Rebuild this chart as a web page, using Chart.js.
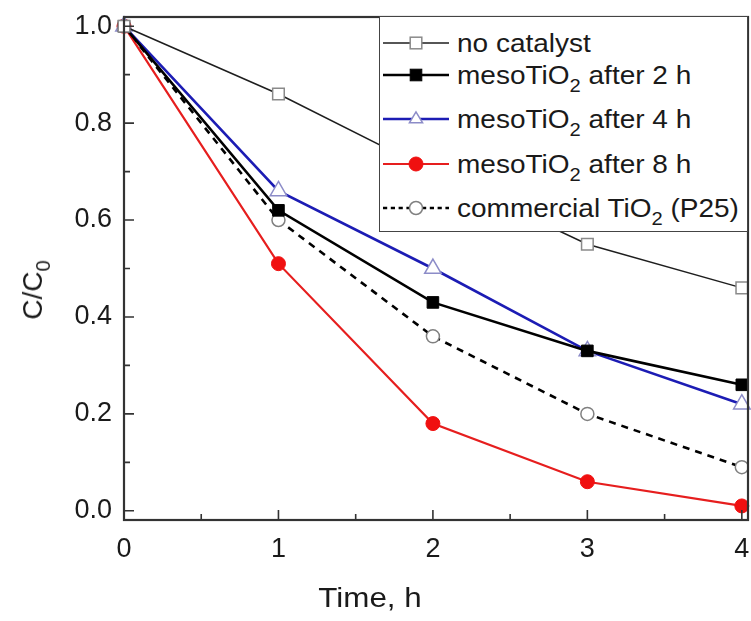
<!DOCTYPE html>
<html>
<head>
<meta charset="utf-8">
<script src="https://cdn.jsdelivr.net/npm/chart.js@4.4.1/dist/chart.umd.min.js"></script>
<style>
  html, body { margin: 0; padding: 0; background: #fff; }
  #wrap { position: relative; width: 751px; height: 621px; overflow: hidden; font-family: "Liberation Sans", Arial, sans-serif; color: #1a1a1a; }
  #c { position: absolute; left: 0; top: 0; }
  #legend { position: absolute; left: 379px; top: 16px; width: 369px; height: 216px; border: 1.5px solid #444; background: #fff; box-sizing: border-box; }
  .row { position: absolute; left: 0; height: 30px; line-height: 30px; white-space: nowrap; }
  .row svg { position: absolute; left: 3px; top: 5px; }
  .row span.t { position: absolute; left: 77px; top: 0; font-size: 25px; transform: scaleX(1.12); transform-origin: left center; }
  sub { font-size: 0.72em; line-height: 0; vertical-align: -0.42em; }
  #ytitle { position: absolute; left: 33px; top: 290px; transform: translate(-50%, -50%) rotate(-90deg); font-size: 28px; white-space: nowrap; }
  #xtitle { position: absolute; left: 370px; top: 598px; transform: translate(-50%, -50%) scaleX(1.12); font-size: 28px; white-space: nowrap; }
</style>
</head>
<body>
<div id="wrap">
  <canvas id="c" width="751" height="621"></canvas>
  <div id="legend"></div>
  <div id="ytitle">C/C<sub>0</sub></div>
  <div id="xtitle">Time, h</div>
</div>
<script>
// ---- data ----
const times = [0, 1, 2, 3, 4];
const noCatalyst = [1.00, 0.86, 0.70, 0.55, 0.46];
const meso2h = [1.00, 0.62, 0.43, 0.33, 0.26];
const meso4h = [1.00, 0.66, 0.50, 0.33, 0.22];
const meso8h = [1.00, 0.51, 0.18, 0.06, 0.01];
const p25 = [1.00, 0.60, 0.36, 0.20, 0.09];
const seriesLabels = [
  'no catalyst',
  'mesoTiO<sub>2</sub> after 2 h',
  'mesoTiO<sub>2</sub> after 4 h',
  'mesoTiO<sub>2</sub> after 8 h',
  'commercial TiO<sub>2</sub> (P25)'
];
const xMajorTicks = [0, 1, 2, 3, 4];
const xMinorTicks = [0.5, 1.5, 2.5, 3.5];
const yMajorTicks = [0.0, 0.2, 0.4, 0.6, 0.8, 1.0];
const yMinorTicks = [0.1, 0.3, 0.5, 0.7, 0.9];

const toPts = arr => times.map((t, i) => ({ x: t, y: arr[i] }));

const styles = [
  { data: noCatalyst, borderColor: '#1e1e1e', borderWidth: 1.5, pointStyle: 'rect', pointRadius: 8.2, pointBorderColor: '#8a8a8a', pointBackgroundColor: '#ffffff', pointBorderWidth: 1.5, dash: [] },
  { data: meso2h, borderColor: '#000000', borderWidth: 2.6, pointStyle: 'rect', pointRadius: 8.2, pointBorderColor: '#000000', pointBackgroundColor: '#000000', pointBorderWidth: 1, dash: [] },
  { data: meso4h, borderColor: '#1c1cb4', borderWidth: 2.6, pointStyle: 'triangle', pointRadius: 9.5, pointBorderColor: '#8c8cc8', pointBackgroundColor: '#ffffff', pointBorderWidth: 1.5, dash: [] },
  { data: meso8h, borderColor: '#e61e1e', borderWidth: 2.2, pointStyle: 'circle', pointRadius: 7, pointBorderColor: '#f01010', pointBackgroundColor: '#f01010', pointBorderWidth: 1, dash: [] },
  { data: p25, borderColor: '#000000', borderWidth: 2.6, pointStyle: 'circle', pointRadius: 6.5, pointBorderColor: '#808080', pointBackgroundColor: '#ffffff', pointBorderWidth: 1.5, dash: [7, 6] }
];

const datasets = styles.map((s, i) => ({
  label: seriesLabels[i].replace(/<[^>]+>/g, ''),
  data: toPts(s.data),
  borderColor: s.borderColor,
  borderWidth: s.borderWidth,
  borderDash: s.dash,
  pointStyle: s.pointStyle,
  pointRadius: s.pointRadius,
  pointHoverRadius: s.pointRadius,
  pointBorderColor: s.pointBorderColor,
  pointBackgroundColor: s.pointBackgroundColor,
  pointBorderWidth: s.pointBorderWidth,
  tension: 0,
  fill: false,
  clip: false
}));

function buildTicks(major, minor) {
  return scale => {
    const mset = new Set(major);
    scale.ticks = [...major, ...minor].sort((a, b) => a - b).map(v => ({ value: v, major: mset.has(v) }));
  };
}

const frameTicks = {
  id: 'frameTicks',
  afterDatasetsDraw(chart) {
    const { ctx, chartArea: a, scales } = chart;
    ctx.save();
    ctx.strokeStyle = '#333';
    ctx.lineWidth = 1.6;
    ctx.beginPath();
    scales.x.ticks.forEach(t => {
      const px = scales.x.getPixelForValue(t.value);
      const len = t.major ? 10 : 6;
      ctx.moveTo(px, a.bottom);
      ctx.lineTo(px, a.bottom - len);
    });
    scales.y.ticks.forEach(t => {
      const py = scales.y.getPixelForValue(t.value);
      const len = t.major ? 10 : 6;
      ctx.moveTo(a.left, py);
      ctx.lineTo(a.left + len, py);
    });
    ctx.stroke();
    ctx.lineWidth = 2.2;
    ctx.strokeRect(a.left, a.top, a.right - a.left, a.bottom - a.top);
    ctx.restore();
  }
};

const tickFont = { family: '"Liberation Sans", Arial, sans-serif', size: 27 };
const zeroPad = s => {
  s.paddingLeft = 0; s.paddingRight = 0; s.paddingTop = 0; s.paddingBottom = 0;
};

new Chart(document.getElementById('c'), {
  type: 'line',
  data: { datasets },
  options: {
    responsive: false,
    animation: false,
    layout: { autoPadding: false, padding: { top: 17, right: 3, left: 0, bottom: 0 } },
    plugins: { legend: { display: false }, tooltip: { enabled: false } },
    scales: {
      x: {
        type: 'linear', min: 0, max: 4.04,
        afterBuildTicks: buildTicks(xMajorTicks, xMinorTicks),
        afterFit: s => { s.height = 101; zeroPad(s); },
        grid: { display: false, drawTicks: false },
        border: { display: false },
        ticks: { autoSkip: false, maxRotation: 0, padding: 13, color: '#1a1a1a', font: tickFont,
          callback: function (v) { return xMajorTicks.includes(v) ? String(v) : ''; } }
      },
      y: {
        type: 'linear', min: -0.019, max: 1.019,
        afterBuildTicks: buildTicks(yMajorTicks, yMinorTicks),
        afterFit: s => { s.width = 124; zeroPad(s); },
        grid: { display: false, drawTicks: false },
        border: { display: false },
        ticks: { autoSkip: false, padding: 12, color: '#1a1a1a', font: tickFont,
          callback: function (v) { return yMajorTicks.some(m => Math.abs(m - v) < 1e-9) ? v.toFixed(1) : ''; } }
      }
    }
  },
  plugins: [frameTicks]
});

// ---- HTML legend (for subscripts) ----
const legendRowY = [26, 58, 102, 147, 191];
const legend = document.getElementById('legend');
styles.forEach((s, i) => {
  const row = document.createElement('div');
  row.className = 'row';
  row.style.top = (legendRowY[i] - 15) + 'px';
  const cx = 33, cy = 10;
  let marker = '';
  const mb = s.pointBorderColor, mf = s.pointBackgroundColor;
  if (s.pointStyle === 'rect') {
    const h = s.pointRadius * Math.SQRT1_2;
    marker = `<rect x="${cx - h}" y="${cy - h}" width="${2 * h}" height="${2 * h}" fill="${mf}" stroke="${mb}" stroke-width="${s.pointBorderWidth}"/>`;
  } else if (s.pointStyle === 'triangle') {
    const r = s.pointRadius;
    const p = [[cx, cy - r * 0.75], [cx - r * 0.866 * 0.8, cy + r * 0.5 * 0.8], [cx + r * 0.866 * 0.8, cy + r * 0.5 * 0.8]];
    marker = `<polygon points="${p.map(q => q.join(',')).join(' ')}" fill="${mf}" stroke="${mb}" stroke-width="${s.pointBorderWidth}"/>`;
  } else {
    marker = `<circle cx="${cx}" cy="${cy}" r="${s.pointRadius}" fill="${mf}" stroke="${mb}" stroke-width="${s.pointBorderWidth}"/>`;
  }
  const dash = s.dash.length ? `stroke-dasharray="${s.dash[0] * 0.6},${s.dash[1] * 0.6}"` : '';
  row.innerHTML = `<svg width="68" height="20"><line x1="0" y1="${cy}" x2="66" y2="${cy}" stroke="${s.borderColor}" stroke-width="${s.borderWidth}" ${dash}/>${marker}</svg><span class="t">${seriesLabels[i]}</span>`;
  legend.appendChild(row);
});
</script>
</body>
</html>
